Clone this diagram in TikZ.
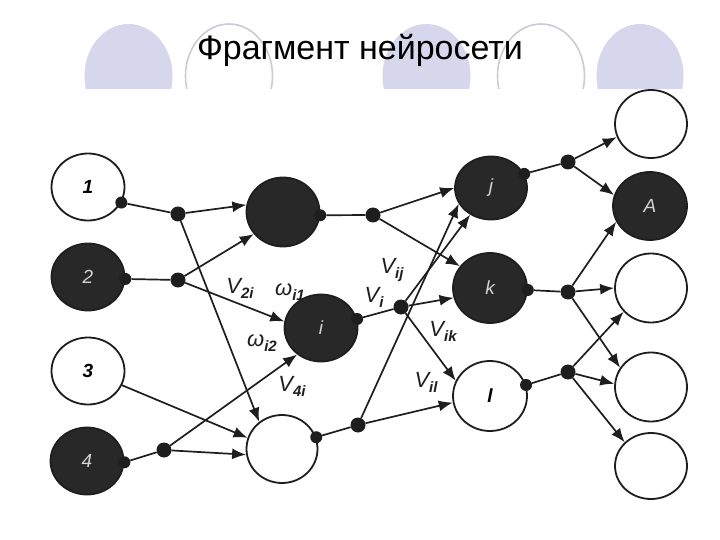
\documentclass[tikz,border=0pt]{standalone}
\usepackage{fontspec}
\setmainfont{Liberation Sans}
\usetikzlibrary{shapes.geometric,arrows.meta}
\definecolor{lav}{HTML}{D6D6EC}
\definecolor{lavline}{HTML}{CACAD8}
\definecolor{ink}{HTML}{1E1E1E}
\definecolor{nodefill}{HTML}{282828}
\newcommand\subsc[1]{\raisebox{-5pt}{\fontsize{15}{15}\selectfont\bfseries #1}}
\begin{document}
\begin{tikzpicture}[x=1pt,y=-1pt]
\tikzset{
 nd/.style={ellipse, draw=ink, line width=1.8pt, minimum width=73pt, minimum height=67pt, inner sep=0pt, fill=white, font=\fontsize{19}{19}\selectfont\itshape\bfseries},
 bk/.style={nd, fill=nodefill, text=gray!35, font=\fontsize{19}{19}\selectfont\itshape},
 dotn/.style={circle, fill=ink, inner sep=0pt, minimum size=12pt},
 jn/.style={circle, fill=ink, inner sep=0pt, minimum size=15pt},
 con/.style={line width=1.7pt, draw=ink},
 arr/.style={con, -{Latex[length=14pt,width=11pt]}},
 lab/.style={font=\fontsize{22}{22}\selectfont\itshape, text=ink, inner sep=0pt},
 decofill/.style={fill=lav},
 decoline/.style={draw=lavline, line width=1.6pt},
}
\useasboundingbox (0,0) rectangle (720,540);
\fill[white] (0,0) rectangle (720,540);
% decorative shapes
\begin{scope}
\clip (0,0) rectangle (720,89);
\fill[decofill] (128.5,76) ellipse [x radius=44, y radius=52];
\draw[decoline] (229,76) ellipse [x radius=43.5, y radius=52];
\fill[decofill] (426.5,76) ellipse [x radius=44, y radius=52];
\draw[decoline] (541,76) ellipse [x radius=43.5, y radius=52];
\fill[decofill] (640,76) ellipse [x radius=43.5, y radius=52];
\end{scope}
\node[anchor=base, inner sep=0pt, font=\fontsize{34}{34}\selectfont] (title) at (360,60) {Фрагмент нейросети};
% input layer
\node[nd] (n1) at (88,187) {1};
\node[bk] (n2) at (88,277) {2};
\node[nd] (n3) at (88,371) {3};
\node[bk] (n4) at (87,461) {4};
% hidden layer 1
\node[bk, minimum height=69pt] (h1) at (283,212) {};
\node[bk] (ni) at (321,328) {i};
\node[nd, minimum width=71pt, minimum height=68pt] (B) at (282,449) {};
% hidden layer 2
\node[bk, minimum width=72pt, minimum height=63pt] (nj) at (491,188) {j};
\node[bk, minimum width=74pt, minimum height=70pt] (nk) at (490,288) {k};
\node[nd, minimum width=74pt, minimum height=70pt] (nl) at (490,396) {l};
% output layer
\node[nd, minimum width=72pt, minimum height=68pt] (o1) at (651,124) {};
\node[bk, minimum width=74pt, minimum height=68pt] (oA) at (650,206) {A};
\node[nd, minimum width=72pt, minimum height=69pt] (o3) at (651,288) {};
\node[nd, minimum width=72pt, minimum height=69pt] (o4) at (651,387) {};
\node[nd, minimum width=72pt, minimum height=66pt] (o5) at (651,466) {};
% output dots on nodes
\node[dotn] (d1) at (n1.335) {};
\node[dotn] (d2) at (n2.-3) {};
\node[dotn] (d4) at (n4.-2) {};
\node[dotn] (dh1) at (h1.-5) {};
\node[dotn] (dni) at (ni.14) {};
\node[dotn] (dB) at (B.19) {};
\node[dotn] (dj) at (nj.23) {};
\node[dotn] (dk) at (nk.-3) {};
\node[dotn] (dl) at (nl.17) {};
% junctions
\node[jn] (jn1) at (178,214) {};
\node[jn] (jn2) at (178,280) {};
\node[jn] (jn4) at (164,450) {};
\node[jn] (jnA) at (373,215) {};
\node[jn] (jnI) at (401,307) {};
\node[jn] (jnB) at (358,425) {};
\node[jn] (jnJ) at (568,162) {};
\node[jn] (jnK) at (568,292) {};
\node[jn] (jnL) at (568,372) {};
% connectors
\draw[con] (d1) -- (jn1);
\draw[arr] (jn1) -- (h1.169);
\draw[arr] (jn1) -- (B.130);
\draw[con] (d2) -- (jn2);
\draw[arr] (jn2) -- (h1.217);
\draw[arr] (jn2) -- (ni.170);
\draw[arr] (n3) -- (B.162);
\draw[con] (d4) -- (jn4);
\draw[arr] (jn4) -- (ni.228);
\draw[arr] (jn4) -- (B.189);
\draw[con] (dh1) -- (jnA);
\draw[arr] (jnA) -- (nj.180);
\draw[arr] (jnA) -- (nk.144);
\draw[con] (dni) -- (jnI);
\draw[arr] (jnI) -- (nj.232);
\draw[arr] (jnI) -- (nk.195);
\draw[arr] (jnI) -- (nl.156);
\draw[con] (dB) -- (jnB);
\draw[arr] (jnB) -- (nj.206);
\draw[arr] (jnB) -- (nl.190);
\draw[con] (dj) -- (jnJ);
\draw[arr] (jnJ) -- (o1.201);
\draw[arr] (jnJ) -- (oA.163);
\draw[con] (dk) -- (jnK);
\draw[arr] (jnK) -- (oA.205);
\draw[arr] (jnK) -- (o3.180);
\draw[arr] (jnK) -- (o4.148);
\draw[con] (dl) -- (jnL);
\draw[arr] (jnL) -- (o3.221);
\draw[arr] (jnL) -- (o4.175);
\draw[arr] (jnL) -- (o5.138);
% labels
\node[lab] (l2i) at (240,288) {V\subsc{2i}};
\node[lab] (lwi1) at (290,292) {ω\subsc{i1}};
\node[lab] (lwi2) at (262,343) {ω\subsc{i2}};
\node[lab] (l4i) at (292,386) {V\subsc{4i}};
\node[lab] (lij) at (392,270) {V\subsc{ij}};
\node[lab] (li) at (374,297) {V\subsc{i}};
\node[lab] (lik) at (443,331) {V\subsc{ik}};
\node[lab] (lil) at (426,382) {V\subsc{il}};
\end{tikzpicture}
\end{document}
